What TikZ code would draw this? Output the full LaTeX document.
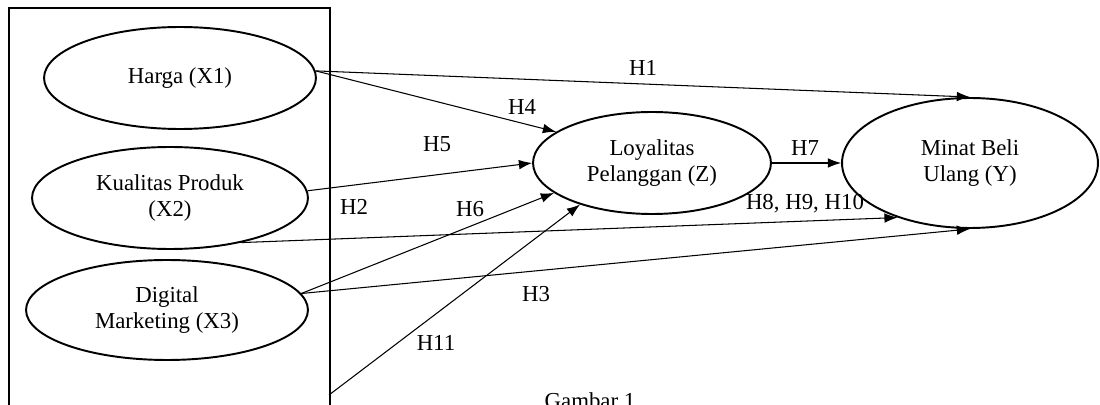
\documentclass[tikz,border=0pt]{standalone}
\usepackage{fontspec}
\setmainfont{Liberation Serif}
\usetikzlibrary{shapes.geometric,arrows.meta}

\tikzset{
  var/.style={draw, ellipse, line width=1.1pt, inner sep=0pt, align=center,
    font=\fontsize{13}{15}\selectfont},
  hyp/.style={-{Latex[length=7.5pt,width=5.5pt]}, line width=0.6pt},
  lbl/.style={font=\fontsize{13}{15}\selectfont, inner sep=0pt}
}

\begin{document}
\begin{tikzpicture}[x=0.02cm, y=-0.02cm]
\clip (0,0) rectangle (1100,405);
% group frame (runs off the bottom)
\node[draw, line width=1.1pt, minimum width=6.42cm, minimum height=8.8cm, anchor=north west] (grp) at (8,7) {};

% variables
\node[var, minimum width=5.44cm, minimum height=2.04cm] (harga) at (180,78) {Harga (X1)};
\node[var, minimum width=5.52cm, minimum height=2.04cm] (kual) at (170,198) {Kualitas Produk\\(X2)};
\node[var, minimum width=5.64cm, minimum height=2.0cm] (digi) at (167,310) {Digital\\Marketing (X3)};
\node[var, minimum width=4.76cm, minimum height=2.04cm] (loyal) at (652,163) {Loyalitas\\Pelanggan (Z)};
\node[var, minimum width=5.12cm, minimum height=2.6cm] (minat) at (970,163) {Minat Beli\\Ulang (Y)};
\coordinate (src11) at (329,395);

% hypotheses
\draw[hyp] (harga.3) -- (minat.north);
\draw[hyp] (harga.3) -- (loyal.162);
\draw[hyp] (kual.3) -- (loyal.west);
\draw[hyp] (kual.-32) -- (minat.217);
\draw[hyp] (digi.7) -- (loyal.197);
\draw[hyp] (digi.7) -- (minat.south);
\draw[hyp] (src11) -- (loyal.210);
\draw[hyp] (loyal.east) -- (minat.west);

% labels
\node[lbl] (l1) at (643,68) {H1};
\node[lbl] (l4) at (522,107) {H4};
\node[lbl] (l5) at (437,144) {H5};
\node[lbl] (l2) at (354,207) {H2};
\node[lbl] (l6) at (470,209) {H6};
\node[lbl] (l7) at (805,148) {H7};
\node[lbl] (l8) at (805,204) {H8, H9, H10};
\node[lbl] (l3) at (536,294) {H3};
\node[lbl] (l11) at (436,343) {H11};
\node[lbl, anchor=base] (cap) at (590,409) {Gambar 1};

\end{tikzpicture}
\end{document}
